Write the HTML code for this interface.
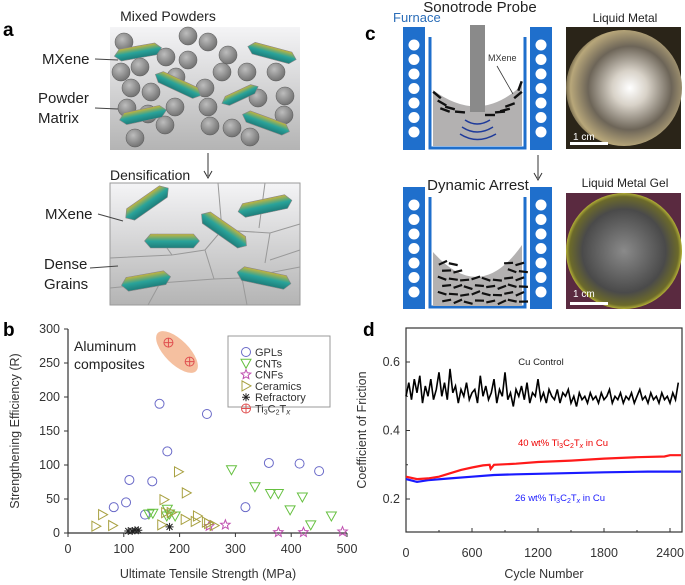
<!DOCTYPE html>
<html><head><meta charset="utf-8"><style>
body{margin:0;background:#fff;font-family:"Liberation Sans","DejaVu Sans",sans-serif;}
#root{position:relative;width:685px;height:585px;overflow:hidden;}
svg{position:absolute;left:0;top:0}
text{font-family:"Liberation Sans","DejaVu Sans",sans-serif;}
</style></head><body>
<div id="root">
<svg width="685" height="585" viewBox="0 0 685 585">
<defs>
<linearGradient id="gbox" x1="0" y1="0" x2="0" y2="1"><stop offset="0" stop-color="#f4f4f6"/><stop offset="1" stop-color="#b4b4b4"/></linearGradient>
<radialGradient id="gsph" cx="0.4" cy="0.35" r="0.7"><stop offset="0" stop-color="#bdbdbd"/><stop offset="1" stop-color="#6d6d6d"/></radialGradient>
<linearGradient id="gmx" x1="0" y1="0" x2="0" y2="1"><stop offset="0" stop-color="#c8b43a"/><stop offset="0.5" stop-color="#2aa39a"/><stop offset="1" stop-color="#1d7d7a"/></linearGradient>
<radialGradient id="gp1" cx="0.55" cy="0.5" r="0.6"><stop offset="0" stop-color="#fff"/><stop offset="0.25" stop-color="#d8d2c8"/><stop offset="0.6" stop-color="#6d6558"/><stop offset="0.85" stop-color="#b8a77a"/><stop offset="1" stop-color="#2a2418"/></radialGradient>
<radialGradient id="gp2" cx="0.5" cy="0.5" r="0.6"><stop offset="0" stop-color="#8a8a8a"/><stop offset="0.6" stop-color="#4a4a4a"/><stop offset="0.78" stop-color="#6c6a2a"/><stop offset="0.85" stop-color="#c9c53a"/><stop offset="1" stop-color="#5a2a40"/></radialGradient>
</defs>

<!-- Panel a -->
<g>
<text x="3" y="36" font-size="19" font-weight="bold">a</text>
<text x="168" y="21" font-size="14" text-anchor="middle" fill="#222">Mixed Powders</text>
<rect x="110" y="27" width="190" height="123" fill="url(#gbox)"/>
<g id="spheres"></g>
<g id="flakesA"></g>
<text x="42" y="64" font-size="15" fill="#222">MXene</text>
<line x1="95" y1="59" x2="118" y2="60" stroke="#444"/>
<text x="38" y="103" font-size="15" fill="#222">Powder</text>
<text x="38" y="123" font-size="15" fill="#222">Matrix</text>
<line x1="95" y1="108" x2="118" y2="109" stroke="#444"/>
<line x1="208" y1="153" x2="208" y2="176" stroke="#333"/>
<path d="M204,171 L208,178 L212,171" fill="none" stroke="#333"/>
<text x="110" y="180" font-size="14" fill="#222">Densification</text>
<rect x="110" y="183" width="190" height="122" fill="url(#gbox)" stroke="#999"/>
<path d="M218,183 L222,230 L270,233 L300,224 M222,230 L205,250 L172,255 L157,234 M205,250 L214,279 L242,278 L300,267 M172,255 L110,258 M214,279 L160,283 L148,305 M242,278 L247,305 M160,283 L110,288 M259,228 L265,183 M270,233 L265,263 M300,250 L270,260" stroke="#999" fill="none"/>
<g id="flakesB"></g>
<text x="45" y="219" font-size="15" fill="#222">MXene</text>
<line x1="98" y1="214" x2="123" y2="221" stroke="#444"/>
<text x="44" y="269" font-size="15" fill="#222">Dense</text>
<text x="44" y="289" font-size="15" fill="#222">Grains</text>
<line x1="90" y1="268" x2="118" y2="266" stroke="#444"/>
</g>

<!-- Panel c -->
<g>
<text x="365" y="40" font-size="19" font-weight="bold">c</text>
<text x="393" y="22" font-size="13" fill="#2a6db8">Furnace</text>
<text x="480" y="12" font-size="15" text-anchor="middle" fill="#222">Sonotrode Probe</text>
<g id="furnaces"></g>
<path d="M433,90 Q480,125 522,85 L522,146 L433,146 Z" fill="#b3b1b1"/>
<rect x="470" y="25" width="15" height="87" fill="#8a8a8a"/>
<path d="M465,120 Q477,128 490,120 M462,127 Q477,137 493,127 M460,134 Q477,145 496,134" stroke="#1e3a9a" stroke-width="1.5" fill="none"/>
<text x="488" y="61" font-size="9" fill="#333">MXene</text>
<line x1="497" y1="66" x2="513" y2="94" stroke="#333" stroke-width="0.8"/>
<path d="M433,252 Q480,305 522,245 L522,306 L433,306 Z" fill="#b3b1b1"/>
<g id="flakesC"></g>
<line x1="538" y1="155" x2="538" y2="178" stroke="#333"/>
<path d="M534,173 L538,180 L542,173" fill="none" stroke="#333"/>
<text x="478" y="190" font-size="15" text-anchor="middle" fill="#222">Dynamic Arrest</text>
<text x="625" y="22" font-size="12" text-anchor="middle" fill="#222">Liquid Metal</text>
<rect x="566" y="27" width="115" height="122" fill="#2a2418"/>
<circle cx="624" cy="88" r="58" fill="url(#gp1)"/>
<rect x="570" y="142" width="38" height="3" fill="#fff"/>
<text x="573" y="140" font-size="10" fill="#fff">1 cm</text>
<text x="625" y="187" font-size="12" text-anchor="middle" fill="#222">Liquid Metal Gel</text>
<rect x="566" y="193" width="115" height="116" fill="#5a2a40"/>
<circle cx="624" cy="251" r="58" fill="url(#gp2)"/>
<rect x="570" y="302" width="38" height="3" fill="#fff"/>
<text x="573" y="297" font-size="10" fill="#fff">1 cm</text>
</g>

<!-- Panel b -->
<g id="chartB">
<text x="3" y="336" font-size="19" font-weight="bold">b</text>
<ellipse cx="177" cy="352" rx="27" ry="12" transform="rotate(45 177 352)" fill="#f5c0a0"/>
<text x="74" y="351" font-size="14" fill="#222">Aluminum</text>
<text x="74" y="369" font-size="14" fill="#222">composites</text>
<text transform="translate(19,431) rotate(-90)" font-size="12.5" text-anchor="middle" fill="#333">Strengthening Efficiency (R)</text>
<text x="208" y="578" font-size="12.5" text-anchor="middle" fill="#333">Ultimate Tensile Strength (MPa)</text>
</g>

<!-- Panel d -->
<g id="chartD">
<text x="363" y="336" font-size="19" font-weight="bold">d</text>
<text transform="translate(366,430) rotate(-90)" font-size="12.5" text-anchor="middle" fill="#333">Coefficient of Friction</text>
<text x="544" y="578" font-size="12.5" text-anchor="middle" fill="#333">Cycle Number</text>
<text x="541" y="365" font-size="9.5" text-anchor="middle" fill="#222">Cu Control</text>
<text x="563" y="446" font-size="9.5" text-anchor="middle" fill="#e00">40 wt% Ti<tspan font-size="7" dy="2">3</tspan><tspan dy="-2">C</tspan><tspan font-size="7" dy="2">2</tspan><tspan dy="-2">T</tspan><tspan font-size="7" dy="2" font-style="italic">x</tspan><tspan dy="-2"> in Cu</tspan></text>
<text x="560" y="501" font-size="9.5" text-anchor="middle" fill="#1a1aff">26 wt% Ti<tspan font-size="7" dy="2">3</tspan><tspan dy="-2">C</tspan><tspan font-size="7" dy="2">2</tspan><tspan dy="-2">T</tspan><tspan font-size="7" dy="2" font-style="italic">x</tspan><tspan dy="-2"> in Cu</tspan></text>
</g>
</svg>
</div>
<script>
// ---------- Chart b data ----------
const gplX=[82,104,110,138,151,164,178,249,318,360,415,450];
const gplY=[38,45,78,27,76,190,120,175,38,103,102,91];
const cntX=[145,152,177,178,182,192,293,335,363,377,398,420,435,472];
const cntY=[28,29,25,35,28,25,93,68,58,58,34,53,12,25];
const cnfX=[253,282,377,422,492];
const cnfY=[10,12,1,1,2];
const cerX=[50,62,80,168,172,175,185,198,210,212,228,232,248,252,262];
const cerY=[10,27,11,12,49,30,30,90,20,59,17,25,16,14,11];
const refX=[108,115,120,126,182];
const refY=[3,3,4,4,9];
const tiX=[180,218];
const tiY=[280,252];
const bXTicks=[0,100,200,300,400,500];
const bYTicks=[0,50,100,150,200,250,300];
const legendNames=["GPLs","CNTs","CNFs","Ceramics","Refractory","Ti3C2Tx"];

// ---------- Chart d data ----------
const cycleStep=25;
const cuControl=[0.50,0.54,0.49,0.55,0.51,0.56,0.48,0.53,0.50,0.55,0.49,0.52,0.57,0.50,0.54,0.49,0.58,0.51,0.53,0.48,0.52,0.50,0.54,0.49,0.51,0.52,0.48,0.56,0.50,0.53,0.49,0.51,0.55,0.48,0.52,0.50,0.57,0.49,0.51,0.47,0.52,0.50,0.53,0.49,0.54,0.48,0.51,0.50,0.55,0.49,0.51,0.48,0.52,0.50,0.49,0.52,0.48,0.51,0.50,0.52,0.48,0.50,0.47,0.51,0.49,0.50,0.48,0.51,0.49,0.50,0.48,0.51,0.49,0.50,0.52,0.48,0.50,0.49,0.51,0.48,0.50,0.49,0.51,0.48,0.50,0.52,0.49,0.50,0.48,0.51,0.49,0.50,0.48,0.51,0.49,0.50,0.48,0.51,0.49,0.54];
const redCycles=[0,100,200,300,400,500,600,700,760,770,800,1000,1200,1500,1800,2100,2350,2400,2500];
const redCoF=[0.265,0.258,0.260,0.265,0.275,0.285,0.292,0.298,0.300,0.288,0.300,0.303,0.308,0.312,0.318,0.322,0.324,0.328,0.328];
const blueCycles=[0,100,200,400,600,800,1000,1400,1800,2200,2500];
const blueCoF=[0.258,0.250,0.255,0.260,0.265,0.270,0.272,0.275,0.278,0.280,0.280];
const dXTicks=[0,600,1200,1800,2400];
const dYTicks=[0.2,0.4,0.6];

const NS="http://www.w3.org/2000/svg";
function mk(tag,attrs,parent){const e=document.createElementNS(NS,tag);for(const k in attrs)e.setAttribute(k,attrs[k]);parent.appendChild(e);return e;}

// ----- Panel a/c decorations -----
const sph=document.getElementById('spheres');
const spheres=[[124,42],[188,36],[208,42],[228,55],[166,57],[188,60],[121,72],[140,67],[222,72],[247,72],[176,77],[131,88],[151,92],[205,88],[276,72],[285,96],[258,98],[175,107],[208,107],[127,108],[165,125],[210,126],[232,128],[250,137],[135,138],[284,115],[148,114]];
spheres.forEach(p=>{const c=mk('circle',{cx:p[0],cy:p[1],r:9,fill:'url(#gsph)',stroke:'#555','stroke-width':0.5},sph);

});
function flake(g,cx,cy,w,h,ang){const f=mk('g',{transform:`translate(${cx},${cy}) rotate(${ang})`},g);


mk('polygon',{points:`${-w/2},0 ${-w/2+6},${-h/2} ${w/2-6},${-h/2} ${w/2},0 ${w/2-6},${h/2} ${-w/2+6},${h/2}`,fill:'url(#gmx)',stroke:'#888','stroke-width':0.6},f);}
const fa=document.getElementById('flakesA');
flake(fa,138,52,48,12,-10);flake(fa,178,85,50,12,25);flake(fa,240,95,40,10,-25);flake(fa,143,115,48,12,-12);flake(fa,272,53,50,12,15);flake(fa,266,123,50,12,20);
const fb=document.getElementById('flakesB');
flake(fb,147,203,52,14,-35);flake(fb,172,241,55,14,0);flake(fb,224,230,55,14,35);flake(fb,265,206,55,14,-12);flake(fb,146,281,50,14,-10);flake(fb,264,278,55,14,12);
const fur=document.getElementById('furnaces');
[[27,150],[187,309]].forEach(r=>{
 [403,530].forEach(x=>{const b=mk('rect',{x:x,y:r[0],width:22,height:r[1]-r[0],fill:'#1f6fcc'},fur);
 
 
 for(let i=0;i<7;i++){mk('circle',{cx:x+11,cy:r[0]+18+i*14.5,r:5.5,fill:'#fff'},fur);}});
 const cr=mk('path',{d:`M430,${r[0]+10} L430,${r[1]-2} L525,${r[1]-2} L525,${r[0]+10}`,fill:'none',stroke:'#1f6fcc','stroke-width':3},fur);
 
 
});
const fc=document.getElementById('flakesC');
[[437,95,40],[442,103,30],[450,108,15],[460,112,5],[500,112,-5],[510,105,-20],[518,95,-40],[520,86,-70],[445,110,20],[490,115,0],[505,110,-15]].forEach(p=>{mk('rect',{x:p[0]-5,y:p[1]-1.2,width:10,height:2.4,fill:'#111',transform:`rotate(${p[2]} ${p[0]} ${p[1]})`},fc);});
for(let r=0;r<6;r++){for(let c=0;c<8;c++){const x=438+c*11+(r%2)*4;const y=262+r*7.5+(c%3);if(r<2&&Math.abs(x-478)<25)continue;mk('rect',{x:x,y:y,width:9,height:2.2,fill:'#111',transform:`rotate(${(c*37+r*23)%50-25} ${x+4} ${y})`},fc);}}

// ----- Chart b -----
const B=document.getElementById('chartB');
const bx=v=>68+v/500*279, by=v=>533-v/300*204;
mk('line',{x1:68,y1:329,x2:68,y2:533,stroke:'#333','stroke-width':1.2},B);
mk('line',{x1:68,y1:533,x2:347,y2:533,stroke:'#333','stroke-width':1.2},B);
bXTicks.forEach(t=>{mk('line',{x1:bx(t),y1:533,x2:bx(t),y2:537,stroke:'#333'},B);
const l=mk('text',{x:bx(t),y:553,'font-size':12.5,'text-anchor':'middle',fill:'#333'},B);l.textContent=t;

});
bYTicks.forEach(t=>{mk('line',{x1:64,y1:by(t),x2:68,y2:by(t),stroke:'#333'},B);
const l=mk('text',{x:60,y:by(t)+4,'font-size':12.5,'text-anchor':'end',fill:'#333'},B);l.textContent=t;

});
function marker(g,type,x,y){
 if(type===0)return mk('circle',{cx:x,cy:y,r:4.5,fill:'none',stroke:'#6a6ac8','stroke-width':1},g);
 if(type===1)return mk('polygon',{points:`${x-5},${y-4} ${x+5},${y-4} ${x},${y+5}`,fill:'none',stroke:'#66c040','stroke-width':1},g);
 if(type===2){let p='';for(let i=0;i<10;i++){const r=i%2?2.2:5;const a=-Math.PI/2+i*Math.PI/5;p+=(x+r*Math.cos(a)).toFixed(1)+','+(y+r*Math.sin(a)).toFixed(1)+' ';}return mk('polygon',{points:p,fill:'none',stroke:'#c050b0','stroke-width':1},g);}
 if(type===3)return mk('polygon',{points:`${x-4},${y-5} ${x-4},${y+5} ${x+5},${y}`,fill:'none',stroke:'#a8a040','stroke-width':1},g);
 if(type===4)return mk('path',{d:`M${x-4},${y} H${x+4} M${x},${y-4} V${y+4} M${x-3},${y-3} L${x+3},${y+3} M${x-3},${y+3} L${x+3},${y-3}`,stroke:'#222','stroke-width':1},g);
 const g2=mk('g',{},g);mk('circle',{cx:x,cy:y,r:4.5,fill:'none',stroke:'#e05050','stroke-width':1},g2);mk('path',{d:`M${x-4.5},${y} H${x+4.5} M${x},${y-4.5} V${y+4.5}`,stroke:'#e05050','stroke-width':1},g2);return g2;}
[[gplX,gplY,'gpl-point'],[cntX,cntY,'cnt-point'],[cnfX,cnfY,'cnf-point'],[cerX,cerY,'ceramic-point'],[refX,refY,'refractory-point'],[tiX,tiY,'ti3c2tx-point']].forEach((s,k)=>{
 s[0].forEach((v,i)=>{const m=marker(B,k,bx(v),by(s[1][i]));
 
 });});
const lg=mk('g',{},B);


mk('rect',{x:228,y:336,width:102,height:71,fill:'#fff',stroke:'#999'},lg);
legendNames.forEach((n,k)=>{const y=352+k*11.3;marker(lg,k,246,y);
const t=mk('text',{x:255,y:y+4,'font-size':11,fill:'#333'},lg);


if(k===5){t.innerHTML='Ti<tspan font-size="7" dy="2">3</tspan><tspan dy="-2">C</tspan><tspan font-size="7" dy="2">2</tspan><tspan dy="-2">T</tspan><tspan font-size="8" dy="2" font-style="italic">x</tspan>';}else t.textContent=n;});

// ----- Chart d -----
const D=document.getElementById('chartD');
const dx=v=>406+v/2400*264, dy=v=>499-(v-0.2)/0.4*137;
mk('rect',{x:406,y:328,width:276,height:204,fill:'none',stroke:'#333','stroke-width':1.2},D);
dXTicks.forEach(t=>{mk('line',{x1:dx(t),y1:532,x2:dx(t),y2:528,stroke:'#333'},D);
const l=mk('text',{x:dx(t),y:557,'font-size':12.5,'text-anchor':'middle',fill:'#333'},D);l.textContent=t;

});
[300,900,1500,2100].forEach(t=>mk('line',{x1:dx(t),y1:532,x2:dx(t),y2:530,stroke:'#333'},D));
dYTicks.forEach(t=>{mk('line',{x1:406,y1:dy(t),x2:410,y2:dy(t),stroke:'#333'},D);
const l=mk('text',{x:400,y:dy(t)+4,'font-size':12.5,'text-anchor':'end',fill:'#333'},D);l.textContent=t.toFixed(1);

});
[0.3,0.5].forEach(t=>mk('line',{x1:406,y1:dy(t),x2:408,y2:dy(t),stroke:'#333'},D));
function line(xs,ys,color,name,w){const p=mk('polyline',{points:xs.map((x,i)=>dx(x).toFixed(1)+','+dy(ys[i]).toFixed(1)).join(' '),fill:'none',stroke:color,'stroke-width':w},D);

}
line(cuControl.map((_,i)=>i*cycleStep),cuControl,'#000','cu-control-line',1.6);
line(blueCycles,blueCoF,'#1a1aff','blue-26wt-line',2.2);
line(redCycles,redCoF,'#ff1a1a','red-40wt-line',2.2);
</script>
</body></html>
